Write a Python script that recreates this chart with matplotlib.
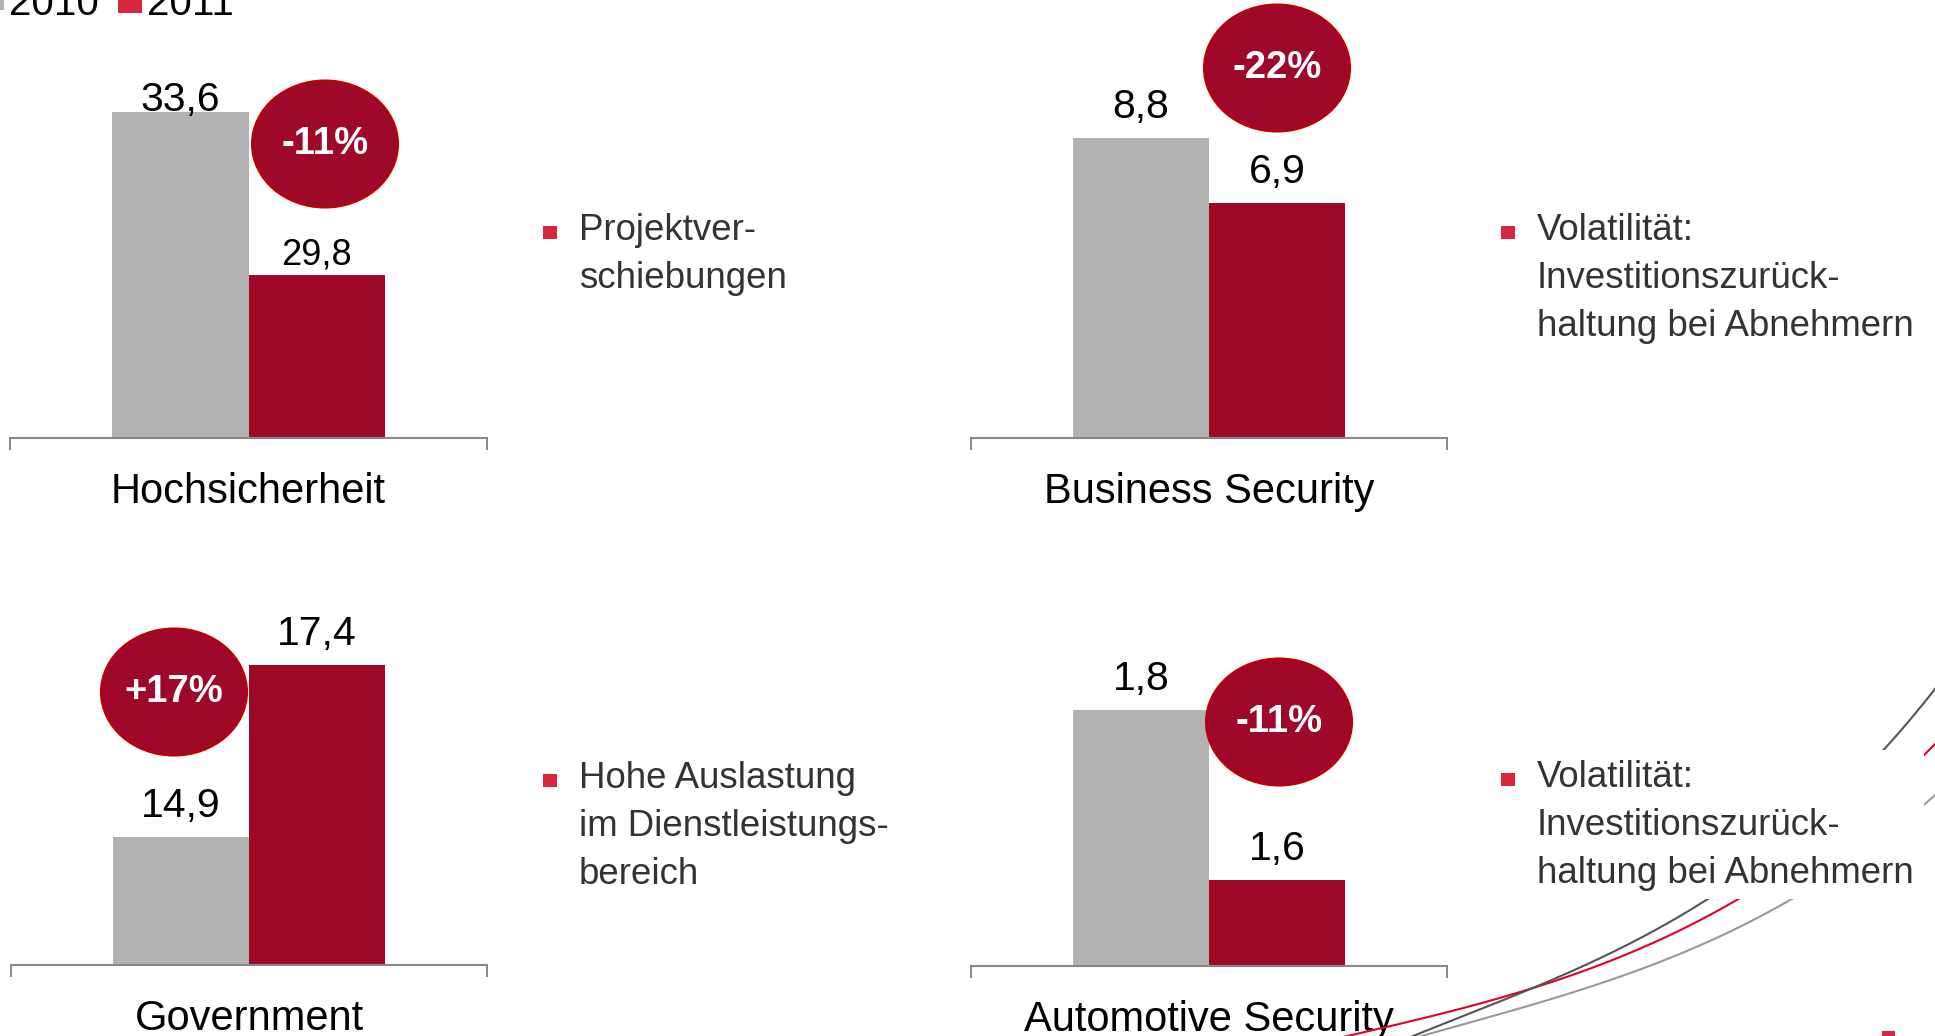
import numpy as np
import matplotlib
matplotlib.use("Agg")
import matplotlib.pyplot as plt
from matplotlib.patches import Ellipse, Rectangle
from matplotlib.lines import Line2D

plt.rcParams['font.family'] = ['Liberation Sans', 'DejaVu Sans']

# data
years = ["2010", "2011"]
categories = ["Hochsicherheit", "Business Security", "Government", "Automotive Security"]
sales_2010 = [33.6, 8.8, 14.9, 1.8]
sales_2011 = [29.8, 6.9, 17.4, 1.6]
changes = ["-11%", "-22%", "+17%", "-11%"]
notes = [
    ["Projektver-", "schiebungen"],
    ["Volatilität:", "Investitionszurück-", "haltung bei Abnehmern"],
    ["Hohe Auslastung", "im Dienstleistungs-", "bereich"],
    ["Volatilität:", "Investitionszurück-", "haltung bei Abnehmern"],
]

GRAY = "#b2b2b2"
RED = "#9e0829"
BRIGHT = "#d9263f"
W, H = 1935, 1036


def fx(x):
    return x / W


def fy(y):
    return 1 - y / H


fig = plt.figure(figsize=(W / 100, H / 100), dpi=100)

# layout in pixels: axis left, right, baseline
boxes = [(10, 487, 438), (971, 1447, 438), (11, 487, 965), (971, 1447, 966)]
ylims = [(26.0, 35.32), (0, 11.73), (13.04, 18.85), (1.499, 1.970)]
gaps = [(1, 10), (20, 20), (20, 20), (20, 20)]
label_fs = [(29.5, 26), (29.5, 29.5), (29.5, 29.5), (29.5, 29.5)]
ell_centers = [(325, 144), (1277, 68), (174, 692), (1279, 722)]
note_x = [(543, 579, 226, 240), (1501, 1537, 226, 240),
          (543, 579, 774, 788), (1501, 1537, 773, 787)]

for i, cat in enumerate(categories):
    l, r, base = boxes[i]
    ax = fig.add_axes([fx(l), fy(base), (r - l) / W, 400 / H])
    vals = [sales_2010[i], sales_2011[i]]
    ax.bar([-0.5, 0.5], vals, width=1.0, color=[GRAY, RED])
    ax.set_xlim(-1.75, 1.75)
    ax.set_ylim(*ylims[i])
    for s in ["top", "left", "right"]:
        ax.spines[s].set_visible(False)
    ax.spines["bottom"].set_color("#888888")
    ax.spines["bottom"].set_linewidth(1.5)
    ax.set_yticks([])
    ax.set_xticks([0], [cat])
    ax.set_xticks([-1.75, 1.75], minor=True)
    ax.tick_params(axis="x", which="major", length=0, pad=24.5, labelsize=30)
    ax.tick_params(axis="x", which="minor", length=8.6, width=1.4,
                   color="#888888", direction="out")
    ax.patch.set_alpha(0)
    for j, v in enumerate(vals):
        ax.annotate(f"{v:.1f}".replace(".", ","), xy=(j - 0.5, v),
                    xytext=(0, gaps[i][j] * 0.72), textcoords="offset points",
                    ha="center", va="baseline", fontsize=label_fs[i][j],
                    annotation_clip=False)

    # change bubble
    cx, cy = ell_centers[i]
    fig.patches.append(Ellipse((fx(cx), fy(cy)), 146 / W, 127 / H,
                               transform=fig.transFigure, facecolor=RED,
                               edgecolor="#c00000", lw=1.5, zorder=5))
    fig.text(fx(cx), fy(cy), changes[i], ha="center", va="center",
             color="white", fontsize=27.5, fontweight="bold", zorder=6)

# decorative curves in the lower right
curve_pts = [
    ("#e0002a", [1345, 1387, 1462, 1581, 1738, 1924, 1935],
     [1036, 1027, 1010, 970, 900, 756, 743]),
    ("#555555", [1415, 1581, 1704, 1885, 1935],
     [1035, 968, 900, 750, 688]),
    ("#999999", [1425, 1574, 1790, 1924, 1935],
     [1035, 992, 900, 805, 795]),
]
for col, xs, ys in curve_pts:
    coef = np.polyfit(xs, ys, 3)
    xx = np.linspace(xs[0] - 30, W, 300)
    yy = np.polyval(coef, xx)
    fig.lines.append(Line2D(fx(xx), fy(yy), transform=fig.transFigure,
                            color=col, lw=1.5, zorder=2))
fig.patches.append(Rectangle((fx(1480), fy(899)), 444 / W, 149 / H,
                             transform=fig.transFigure, facecolor="white",
                             edgecolor="none", zorder=2.5))
fig.patches.append(Rectangle((fx(1882), fy(1036)), 13 / W, 5 / H,
                             transform=fig.transFigure, facecolor=BRIGHT,
                             edgecolor="none", zorder=2.5))

# bullet notes
for i, lines in enumerate(notes):
    sq_x, tx, sq_y, b0 = note_x[i]
    fig.patches.append(Rectangle((fx(sq_x), fy(sq_y + 13)), 14 / W, 13 / H,
                                 transform=fig.transFigure, facecolor=BRIGHT,
                                 edgecolor="none", zorder=3))
    for k, line in enumerate(lines):
        fig.text(fx(tx), fy(b0 + 48 * k), line, ha="left", va="baseline",
                 fontsize=26.4, color="#333333", zorder=4)

# legend at the top-left corner (partly cut off)
fig.patches.append(Rectangle((0, fy(10)), 4 / W, 10 / H, transform=fig.transFigure,
                             facecolor=GRAY, edgecolor="none"))
fig.text(fx(9), fy(15), years[0], ha="left", va="baseline", fontsize=29)
fig.patches.append(Rectangle((fx(118), fy(13)), 24 / W, 13 / H,
                             transform=fig.transFigure, facecolor=BRIGHT,
                             edgecolor="none"))
fig.text(fx(147), fy(15), years[1], ha="left", va="baseline", fontsize=29)

fig.savefig("out.png", dpi=100, facecolor="white")
